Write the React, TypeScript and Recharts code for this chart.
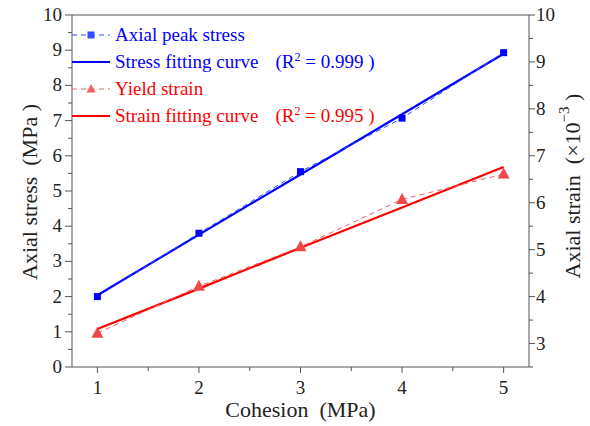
import React from "react";
import {
  LineChart,
  Line,
  XAxis,
  YAxis,
  ReferenceLine,
} from "recharts";

const cohesion = [1, 2, 3, 4, 5];
const peakStress = [2.0, 3.8, 5.55, 7.07, 8.93];
const stressFit = [2.04, 3.76, 5.47, 7.18, 8.9];
const yieldStrain = [3.22, 4.22, 5.06, 6.07, 6.61];
const strainFit = [3.31, 4.17, 5.04, 5.9, 6.76];

const xTicks = [1, 1.5, 2, 2.5, 3, 3.5, 4, 4.5, 5];
const stressTicks = [0, 0.5, 1, 1.5, 2, 2.5, 3, 3.5, 4, 4.5, 5, 5.5, 6, 6.5, 7, 7.5, 8, 8.5, 9, 9.5, 10];
const strainTicks = [2.5, 3, 3.5, 4, 4.5, 5, 5.5, 6, 6.5, 7, 7.5, 8, 8.5, 9, 9.5, 10];

const data = cohesion.map((c, i) => ({
  c,
  peakStress: peakStress[i],
  stressFit: stressFit[i],
  yieldStrain: yieldStrain[i],
  strainFit: strainFit[i],
}));

const FONT = "Liberation Serif, Times New Roman, serif";
const AXIS = "#555";
const BLUE = "#0000ff";
const RED = "#ff0000";
const RED_LIGHT = "#f04848";
const TICK_FS = 19;

const isMajor = (v: number) => Number.isInteger(v);

const BottomTick = (props: any) => {
  const { x, y, payload } = props;
  const major = isMajor(payload.value);
  return (
    <g>
      <line x1={x} x2={x} y1={y} y2={y + (major ? 6 : 4)} stroke={AXIS} />
      {major && (
        <text x={x} y={y + 27} textAnchor="middle" fontSize={TICK_FS} style={{ fontFamily: FONT }} fill="#222">
          {payload.value}
        </text>
      )}
    </g>
  );
};

const LeftTick = (props: any) => {
  const { x, y, payload } = props;
  const major = isMajor(payload.value);
  return (
    <g>
      <line x1={x} x2={x - (major ? 7 : 4)} y1={y} y2={y} stroke={AXIS} />
      {major && (
        <text x={x - 10} y={y + 6} textAnchor="end" fontSize={TICK_FS} style={{ fontFamily: FONT }} fill="#222">
          {payload.value}
        </text>
      )}
    </g>
  );
};

const RightTick = (props: any) => {
  const { x, y, payload } = props;
  const major = isMajor(payload.value);
  return (
    <g>
      <line x1={x} x2={x + (major ? 6 : 4)} y1={y} y2={y} stroke={AXIS} />
      {major && (
        <text x={x + 7} y={y + 6} textAnchor="start" fontSize={TICK_FS} style={{ fontFamily: FONT }} fill="#222">
          {payload.value}
        </text>
      )}
    </g>
  );
};

const SquareDot = (props: any) => {
  const { cx, cy } = props;
  return <rect x={cx - 3.5} y={cy - 3.5} width={7} height={7} fill={BLUE} />;
};

const TriangleDot = (props: any) => {
  const { cx, cy } = props;
  return (
    <path
      d={`M${cx},${cy - 6.5} L${cx + 6},${cy + 4.5} L${cx - 6},${cy + 4.5} Z`}
      fill={RED_LIGHT}
    />
  );
};

const LegendSymbol = ({ color, dashed, marker }: { color: string; dashed?: boolean; marker?: "square" | "triangle" }) => (
  <svg width={38} height={12} style={{ display: "block", flex: "none" }}>
    <line x1={0} x2={38} y1={6} y2={6} stroke={color} strokeWidth={dashed ? 1 : 2} strokeDasharray={dashed ? "5 4" : undefined} />
    {marker === "square" && <rect x={15.5} y={2.5} width={7} height={7} fill={color} />}
    {marker === "triangle" && <path d="M19,1 L23.5,9.5 L14.5,9.5 Z" fill={color} />}
  </svg>
);

const legendRows = [
  { label: "Axial peak stress", r2: "", color: BLUE, dashed: true, marker: "square" as const, symColor: "#3050ff" },
  { label: "Stress fitting curve", r2: "0.999", color: BLUE, dashed: false, symColor: BLUE },
  { label: "Yield strain", r2: "", color: RED, dashed: true, marker: "triangle" as const, symColor: "#f06060" },
  { label: "Strain fitting curve", r2: "0.995", color: RED, dashed: false, symColor: RED },
];

const ChartLegend = () => (
  <div style={{ position: "absolute", left: 72, top: 21, fontFamily: FONT, fontSize: 19, lineHeight: "27px" }}>
    {legendRows.map((r) => (
      <div key={r.label} style={{ display: "flex", alignItems: "center", height: 27, color: r.color }}>
        <LegendSymbol color={r.symColor} dashed={r.dashed} marker={r.marker} />
        <span style={{ marginLeft: 5, whiteSpace: "pre" }}>{r.label}</span>
        {r.r2 && (
          <span style={{ marginLeft: 17, whiteSpace: "pre" }}>
            (R<sup style={{ fontSize: 12, lineHeight: 0, verticalAlign: "7px" }}>2</sup> = {r.r2} )
          </span>
        )}
      </div>
    ))}
  </div>
);

const titleStyle = { fontFamily: FONT, whiteSpace: "pre" as const };

export default function App() {
  return (
    <div style={{ position: "absolute", left: 0, top: 0, width: 590, height: 426, background: "#fff" }}>
      <LineChart width={590} height={426} data={data} margin={{ top: 15, right: 0, bottom: 0, left: 0 }}>
        <XAxis
          dataKey="c"
          type="number"
          domain={[0.75, 5.25]}
          ticks={xTicks}
          height={59}
          tickSize={0}
          tickMargin={0}
          tickLine={false}
          stroke={AXIS}
          tick={<BottomTick />}
          interval={0}
          label={{
            content: (p: any) => {
              const vb = p.viewBox;
              return (
                <text x={vb.x + vb.width / 2} y={vb.y + 50} textAnchor="middle" fontSize={22} style={titleStyle} fill="#222">
                  {"Cohesion  (MPa)"}
                </text>
              );
            },
          }}
        />
        <YAxis
          yAxisId="left"
          domain={[0, 10]}
          ticks={stressTicks}
          width={72}
          tickSize={0}
          tickMargin={0}
          tickLine={false}
          stroke={AXIS}
          tick={<LeftTick />}
          interval={0}
          label={{
            content: (p: any) => {
              const vb = p.viewBox;
              const cx = vb.x + 29;
              const cy = vb.y + vb.height / 2 + 1;
              return (
                <text x={cx} y={cy} transform={`rotate(-90 ${cx} ${cy})`} textAnchor="middle" dominantBaseline="central" fontSize={22} style={titleStyle} fill="#222">
                  {"Axial stress  (MPa )"}
                </text>
              );
            },
          }}
        />
        <YAxis
          yAxisId="right"
          orientation="right"
          domain={[2.5, 10]}
          ticks={strainTicks}
          width={61}
          tickSize={0}
          tickMargin={0}
          tickLine={false}
          stroke={AXIS}
          tick={<RightTick />}
          interval={0}
          label={{
            content: (p: any) => {
              const vb = p.viewBox;
              const cx = vb.x + 43;
              const cy = vb.y + vb.height / 2 - 5;
              return (
                <text x={cx} y={cy} transform={`rotate(-90 ${cx} ${cy})`} textAnchor="middle" dominantBaseline="central" fontSize={22} style={titleStyle} fill="#222">
                  {"Axial strain  (\u00d710"}
                  <tspan fontSize={15} dy={-8}>{"\u22123"}</tspan>
                  <tspan dy={8}>{" )"}</tspan>
                </text>
              );
            },
          }}
        />
        <ReferenceLine yAxisId="left" y={10} stroke={AXIS} />
        <Line yAxisId="left" dataKey="stressFit" stroke={BLUE} strokeWidth={2.2} dot={false} isAnimationActive={false} />
        <Line yAxisId="left" dataKey="peakStress" stroke="#3050ff" strokeWidth={1} strokeDasharray="5 4" dot={<SquareDot />} isAnimationActive={false} />
        <Line yAxisId="right" dataKey="strainFit" stroke={RED} strokeWidth={2.2} dot={false} isAnimationActive={false} />
        <Line yAxisId="right" dataKey="yieldStrain" stroke="#f06060" strokeWidth={1} strokeDasharray="5 4" dot={<TriangleDot />} isAnimationActive={false} />
      </LineChart>
      <ChartLegend />
    </div>
  );
}
